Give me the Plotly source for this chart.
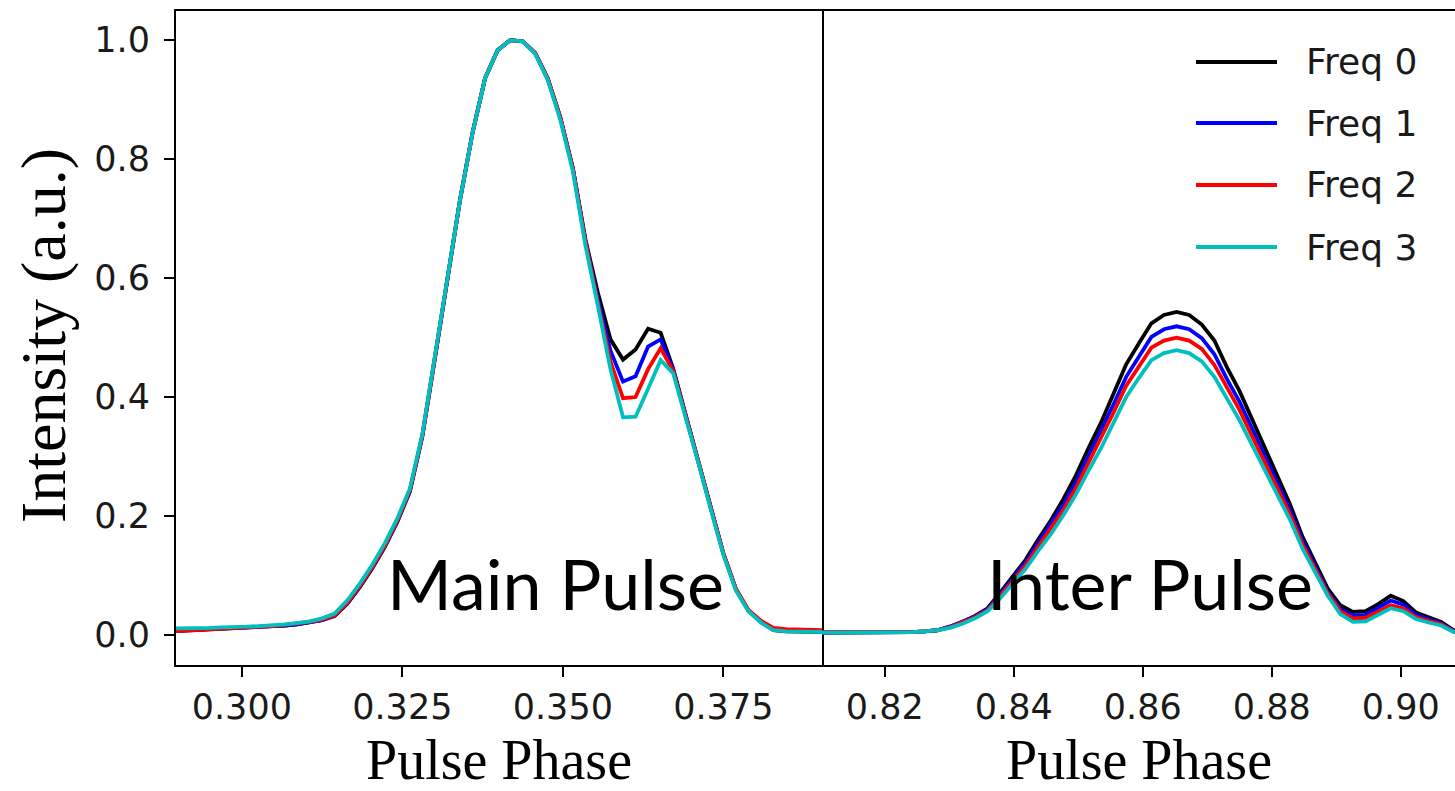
import plotly.graph_objects as go

# Pulse profiles sampled on a 512-bin phase grid
N_BINS = 512
MAIN_BINS = list(range(148, 201))
INTER_BINS = list(range(414, 467))

SERIES_NAMES = ["Freq 0", "Freq 1", "Freq 2", "Freq 3"]
SERIES_COLORS = ["#000000", "#0000ff", "#ff0000", "#00bfbf"]

# Main pulse intensities (normalised), one list per frequency channel
MAIN_F0 = [0.006, 0.007, 0.008, 0.009, 0.010, 0.011, 0.012, 0.013, 0.014, 0.016,
           0.018, 0.021, 0.025, 0.032, 0.052, 0.080, 0.112, 0.148, 0.190, 0.241,
           0.334, 0.465, 0.600, 0.731, 0.844, 0.936, 0.983, 1.000, 0.998, 0.978,
           0.935, 0.870, 0.785, 0.665, 0.575, 0.497, 0.463, 0.480, 0.515, 0.508,
           0.448, 0.370, 0.292, 0.213, 0.137, 0.077, 0.041, 0.022, 0.008, 0.006,
           0.006, 0.005, 0.005]
MAIN_F1 = [0.007, 0.008, 0.009, 0.010, 0.010, 0.011, 0.012, 0.013, 0.014, 0.016,
           0.018, 0.021, 0.025, 0.033, 0.053, 0.081, 0.113, 0.149, 0.191, 0.242,
           0.335, 0.466, 0.600, 0.731, 0.844, 0.936, 0.983, 1.000, 0.998, 0.978,
           0.935, 0.870, 0.784, 0.663, 0.565, 0.478, 0.426, 0.435, 0.485, 0.497,
           0.446, 0.370, 0.292, 0.213, 0.137, 0.077, 0.041, 0.022, 0.009, 0.007,
           0.007, 0.006, 0.006]
MAIN_F2 = [0.006, 0.007, 0.008, 0.009, 0.010, 0.011, 0.012, 0.013, 0.015, 0.017,
           0.019, 0.022, 0.026, 0.033, 0.054, 0.082, 0.114, 0.150, 0.192, 0.243,
           0.336, 0.467, 0.601, 0.731, 0.844, 0.936, 0.983, 1.000, 0.998, 0.978,
           0.935, 0.870, 0.784, 0.662, 0.558, 0.460, 0.398, 0.400, 0.447, 0.482,
           0.444, 0.370, 0.293, 0.214, 0.138, 0.078, 0.042, 0.024, 0.012, 0.010,
           0.009, 0.009, 0.008]
MAIN_F3 = [0.011, 0.011, 0.012, 0.012, 0.013, 0.013, 0.014, 0.015, 0.016, 0.018,
           0.020, 0.023, 0.028, 0.036, 0.058, 0.086, 0.118, 0.154, 0.196, 0.246,
           0.338, 0.468, 0.602, 0.731, 0.844, 0.936, 0.983, 1.000, 0.998, 0.977,
           0.933, 0.866, 0.780, 0.655, 0.553, 0.447, 0.366, 0.367, 0.414, 0.462,
           0.440, 0.367, 0.290, 0.211, 0.135, 0.075, 0.040, 0.021, 0.008, 0.006,
           0.006, 0.005, 0.005]

# Inter pulse intensities (same normalisation)
INTER_F0 = [0.004, 0.004, 0.004, 0.004, 0.004, 0.004, 0.004, 0.005, 0.005, 0.006,
            0.008, 0.014, 0.022, 0.032, 0.045, 0.071, 0.098, 0.126, 0.160, 0.192,
            0.228, 0.268, 0.314, 0.357, 0.406, 0.455, 0.490, 0.524, 0.538, 0.543,
            0.538, 0.522, 0.495, 0.450, 0.410, 0.362, 0.315, 0.268, 0.220, 0.165,
            0.122, 0.078, 0.050, 0.039, 0.040, 0.052, 0.066, 0.057, 0.038, 0.030,
            0.022, 0.008, 0.003]
INTER_F1 = [0.004, 0.004, 0.004, 0.004, 0.004, 0.004, 0.004, 0.005, 0.005, 0.006,
            0.008, 0.014, 0.022, 0.031, 0.044, 0.069, 0.095, 0.122, 0.154, 0.185,
            0.219, 0.257, 0.300, 0.342, 0.388, 0.434, 0.469, 0.501, 0.514, 0.519,
            0.514, 0.499, 0.472, 0.430, 0.392, 0.346, 0.301, 0.256, 0.210, 0.158,
            0.116, 0.073, 0.044, 0.033, 0.034, 0.046, 0.058, 0.051, 0.034, 0.027,
            0.020, 0.007, 0.003]
INTER_F2 = [0.005, 0.005, 0.005, 0.005, 0.004, 0.004, 0.004, 0.005, 0.005, 0.006,
            0.008, 0.013, 0.021, 0.030, 0.042, 0.066, 0.091, 0.117, 0.148, 0.177,
            0.210, 0.247, 0.289, 0.329, 0.374, 0.419, 0.452, 0.483, 0.495, 0.500,
            0.495, 0.481, 0.454, 0.415, 0.378, 0.334, 0.290, 0.247, 0.203, 0.152,
            0.112, 0.070, 0.040, 0.028, 0.029, 0.040, 0.050, 0.045, 0.030, 0.024,
            0.018, 0.006, 0.003]
INTER_F3 = [0.004, 0.004, 0.004, 0.004, 0.004, 0.004, 0.004, 0.004, 0.005, 0.006,
            0.008, 0.012, 0.019, 0.028, 0.040, 0.062, 0.086, 0.111, 0.141, 0.169,
            0.201, 0.236, 0.276, 0.314, 0.357, 0.400, 0.432, 0.462, 0.474, 0.479,
            0.474, 0.460, 0.434, 0.396, 0.361, 0.319, 0.277, 0.236, 0.194, 0.145,
            0.107, 0.066, 0.035, 0.022, 0.023, 0.034, 0.045, 0.040, 0.027, 0.021,
            0.016, 0.005, 0.002]

MAIN_SERIES = [MAIN_F0, MAIN_F1, MAIN_F2, MAIN_F3]
INTER_SERIES = [INTER_F0, INTER_F1, INTER_F2, INTER_F3]

MAIN_TICKS = [0.300, 0.325, 0.350, 0.375]
MAIN_TICK_TEXT = ["0.300", "0.325", "0.350", "0.375"]
INTER_TICKS = [0.82, 0.84, 0.86, 0.88, 0.90]
INTER_TICK_TEXT = ["0.82", "0.84", "0.86", "0.88", "0.90"]
Y_TICKS = [0.0, 0.2, 0.4, 0.6, 0.8, 1.0]
Y_TICK_TEXT = ["0.0", "0.2", "0.4", "0.6", "0.8", "1.0"]

main_phase = [b / N_BINS for b in MAIN_BINS]
inter_phase = [b / N_BINS for b in INTER_BINS]

W, H = 1455, 791
ML, MR, MT, MB = 176, 0, 11, 126
SPLIT_PX = 822
split = (SPLIT_PX - ML) / (W - ML - MR)
plot_w = W - ML - MR
plot_h = H - MT - MB


def px_x(px):
    return (px - ML) / plot_w


def px_y(py):
    return (H - MB - py) / plot_h


TICK_FONT = dict(family="DejaVu Sans", size=35, color="#1a1a1a")
SERIF = "Liberation Serif, Times New Roman, serif"
LINE_W = 3.8

fig = go.Figure()

for name, color, ys in zip(SERIES_NAMES, SERIES_COLORS, MAIN_SERIES):
    fig.add_trace(go.Scatter(x=main_phase, y=ys, mode="lines", name=name,
                             line=dict(color=color, width=LINE_W),
                             xaxis="x", yaxis="y", showlegend=False))
for name, color, ys in zip(SERIES_NAMES, SERIES_COLORS, INTER_SERIES):
    fig.add_trace(go.Scatter(x=inter_phase, y=ys, mode="lines", name=name,
                             line=dict(color=color, width=LINE_W),
                             xaxis="x2", yaxis="y2", showlegend=False))

axis_common = dict(showline=True, linecolor="black", linewidth=2, showgrid=False,
                   zeroline=False, ticks="outside", ticklen=10, tickwidth=2,
                   tickcolor="black", tickfont=TICK_FONT)

fig.update_layout(
    width=W, height=H,
    margin=dict(l=ML, r=MR, t=MT, b=MB),
    paper_bgcolor="white", plot_bgcolor="white",
    xaxis=dict(domain=[0, split], range=[0.28975, 0.39037], tickvals=MAIN_TICKS,
               ticktext=MAIN_TICK_TEXT, mirror=True, anchor="y", **axis_common),
    xaxis2=dict(domain=[split, 1], range=[0.81026, 0.9084], tickvals=INTER_TICKS,
                ticktext=INTER_TICK_TEXT, mirror=True, anchor="y2", **axis_common),
    yaxis=dict(domain=[0, 1], range=[-0.0504, 1.049], tickvals=Y_TICKS,
               ticktext=Y_TICK_TEXT, mirror=True, anchor="x", ticklabelstandoff=7,
               **axis_common),
    yaxis2=dict(domain=[0, 1], range=[-0.0504, 1.049], matches="y", anchor="x2",
                showline=False, showticklabels=False, ticks="", showgrid=False,
                zeroline=False),
    showlegend=False,
)

annotations = [
    dict(text="Intensity (a.u.)", textangle=-90, x=px_x(43), y=px_y(336),
         xref="paper", yref="paper", xanchor="center", yanchor="middle",
         showarrow=False, font=dict(family=SERIF, size=64, color="black")),
    dict(text="Pulse Phase", x=split / 2, y=px_y(760), xref="paper", yref="paper",
         xanchor="center", yanchor="middle", showarrow=False,
         font=dict(family=SERIF, size=56, color="black")),
    dict(text="Pulse Phase", x=(split + 1) / 2, y=px_y(760), xref="paper",
         yref="paper", xanchor="center", yanchor="middle", showarrow=False,
         font=dict(family=SERIF, size=56, color="black")),
    dict(text="Main Pulse", x=px_x(555), y=px_y(583), xref="paper", yref="paper",
         xanchor="center", yanchor="middle", showarrow=False,
         font=dict(family="Lato", size=70, color="black")),
    dict(text="Inter Pulse", x=px_x(1150), y=px_y(583), xref="paper", yref="paper",
         xanchor="center", yanchor="middle", showarrow=False,
         font=dict(family="Lato", size=70, color="black")),
]

# Legend: coloured line samples with labels in the upper right
LEGEND_ROWS_PX = [62, 123, 185, 247]
shapes = []
for name, color, row in zip(SERIES_NAMES, SERIES_COLORS, LEGEND_ROWS_PX):
    shapes.append(dict(type="line", xref="paper", yref="paper",
                       x0=px_x(1196), x1=px_x(1277), y0=px_y(row), y1=px_y(row),
                       line=dict(color=color, width=LINE_W)))
    annotations.append(dict(text=name, x=px_x(1304), y=px_y(row), xref="paper",
                            yref="paper", xanchor="left", yanchor="middle",
                            showarrow=False,
                            font=dict(family="DejaVu Sans", size=36, color="#1a1a1a")))

fig.update_layout(annotations=annotations, shapes=shapes)

fig.write_html("out.html")
